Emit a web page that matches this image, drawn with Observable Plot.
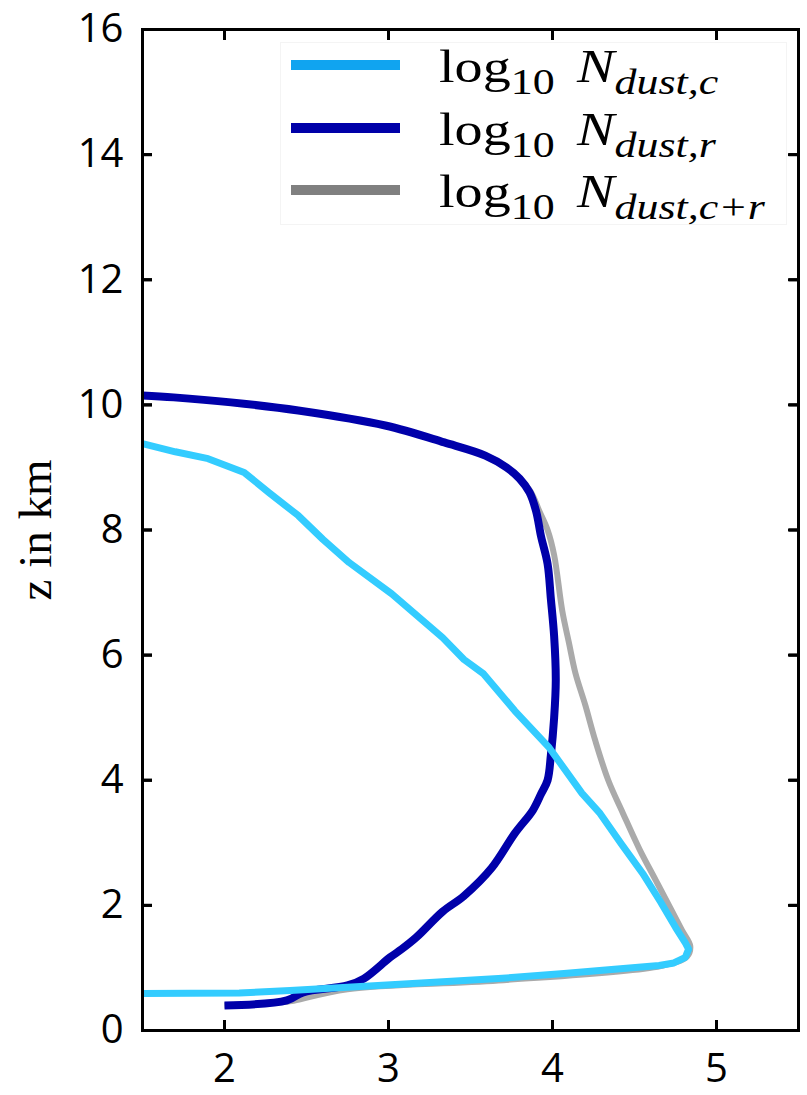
<!DOCTYPE html>
<html><head><meta charset="utf-8">
<script src="https://cdn.jsdelivr.net/npm/d3@7"></script>
<script src="https://cdn.jsdelivr.net/npm/@observablehq/plot@0.6"></script>
<style>
html,body{margin:0;padding:0;background:#fff;}
#wrap{position:relative;width:807px;height:1095px;overflow:hidden;}
#legendBox{position:absolute;left:280px;top:42px;width:507px;height:183px;background:#fff;border:1px solid #f4f4f4;box-sizing:border-box;}
.sw{position:absolute;left:291px;width:109px;height:10px;}
.lt{position:absolute;left:439px;font-family:"Liberation Serif","DejaVu Serif",serif;font-size:46px;line-height:1;white-space:nowrap;transform:scaleX(1.22);transform-origin:0 0;color:#000;}
.lt .sub{position:relative;top:12px;font-size:36px;}
.lt .it{font-style:italic;}
</style></head><body><div id="wrap"></div>
<script>
// ---- data ----
const xTicks = [2, 3, 4, 5];
const yTicks = [0, 2, 4, 6, 8, 10, 12, 14, 16];
const innerYTicks = [2, 4, 6, 8, 10, 12, 14];

// log10 N_dust,c : x = log10 N, z in km
const cX = [1.50, 1.70, 1.90, 2.12, 2.27, 2.45, 2.60, 2.76, 3.02, 3.33, 3.46, 3.58, 3.77, 3.98, 4.18, 4.29, 4.42, 4.55, 4.66, 4.75, 4.81, 4.83, 4.81, 4.74, 4.65, 4.07, 3.67, 3.20, 2.75, 2.40, 2.09, 1.50];
const cZ = [9.38, 9.25, 9.14, 8.92, 8.60, 8.23, 7.85, 7.48, 6.98, 6.28, 5.93, 5.70, 5.11, 4.52, 3.79, 3.47, 2.98, 2.51, 2.05, 1.65, 1.40, 1.30, 1.17, 1.08, 1.04, 0.91, 0.83, 0.76, 0.69, 0.64, 0.60, 0.59];

// log10 N_dust,r
const rX = [1.50, 1.69, 2.04, 2.45, 2.98, 3.34, 3.59, 3.72, 3.80, 3.86, 3.90, 3.93, 3.97, 3.99, 4.01, 4.02, 4.01, 3.99, 3.97, 3.93, 3.88, 3.77, 3.63, 3.46, 3.33, 3.17, 3.08, 3.01, 2.85, 2.75, 2.48, 2.38, 2.00];
const rZ = [10.15, 10.12, 10.04, 9.91, 9.67, 9.40, 9.19, 9.00, 8.82, 8.60, 8.30, 7.90, 7.46, 6.90, 6.30, 5.60, 5.00, 4.40, 4.00, 3.78, 3.52, 3.15, 2.60, 2.15, 1.90, 1.49, 1.30, 1.17, 0.83, 0.72, 0.61, 0.48, 0.40];

// log10 N_dust,c+r
const sX = [1.50, 1.69, 2.04, 2.45, 2.98, 3.34, 3.59, 3.72, 3.80, 3.87, 3.92, 3.97, 4.01, 4.06, 4.10, 4.14, 4.20, 4.26, 4.34, 4.43, 4.53, 4.63, 4.72, 4.79, 4.84, 4.82, 4.66, 3.67, 2.75, 2.41, 2.38, 2.00];
const sZ = [10.15, 10.12, 10.04, 9.91, 9.67, 9.40, 9.19, 9.00, 8.82, 8.60, 8.30, 8.00, 7.60, 6.70, 6.20, 5.71, 5.20, 4.64, 4.00, 3.47, 2.90, 2.40, 1.95, 1.60, 1.35, 1.18, 1.03, 0.80, 0.66, 0.47, 0.46, 0.40];

const seriesColors = ["#33CCFF", "#0000AA", "#AAAAAA"];
const legendColors = ["#10A4F0", "#0000A8", "#808080"];
const legendSubs = ["dust,c", "dust,r", "dust,c+r"];
const yLabel = "z in km";

const toRows = (xs, zs) => xs.map((x, i) => ({x, z: zs[i]}));
const cRows = toRows(cX, cZ), rRows = toRows(rX, rZ), sRows = toRows(sX, sZ);

const W = 807, H = 1095, ML = 142, MR = 9, MT = 29, MB = 65;
const frameW = W - ML - MR, frameH = H - MT - MB, tickLen = 10;
const tickStyle = {stroke: "black", strokeWidth: 3};
const inTick = {tickSize: -tickLen, text: null, label: null, stroke: "black", strokeWidth: 3};

const chart = Plot.plot({
  width: W,
  height: H,
  marginLeft: ML,
  marginRight: MR,
  marginTop: MT,
  marginBottom: MB,
  style: {fontFamily: "'Open Sans', sans-serif"},
  x: {domain: [1.5, 5.5], label: null},
  y: {domain: [0, 16], label: null},
  marks: [
    Plot.line(sRows, {x: "x", y: "z", stroke: seriesColors[2], strokeWidth: 6, curve: "catmull-rom", strokeLinecap: "butt"}),
    Plot.line(rRows, {x: "x", y: "z", stroke: seriesColors[1], strokeWidth: 8, curve: "catmull-rom", strokeLinecap: "butt"}),
    Plot.line(cRows, {x: "x", y: "z", stroke: seriesColors[0], strokeWidth: 7, strokeLinecap: "butt"}),
    Plot.axisY({ticks: yTicks, tickSize: 0, tickPadding: 19, fontSize: 40, label: null, fill: "black", tickFormat: d => String(d)}),
    Plot.axisX({ticks: xTicks, tickSize: 0, tickPadding: 23, fontSize: 40, label: null, fill: "black", tickFormat: d => String(d)}),
    Plot.text([yLabel], {text: d => d, frameAnchor: "left", dx: -107, rotate: -90, textAnchor: "middle", lineAnchor: "middle", fontSize: 47, fontFamily: "Liberation Serif, serif", fill: "black"}),
    Plot.frame({stroke: "black", strokeWidth: 3}),
    // inward ticks on all four sides
    Plot.tickY(innerYTicks, {y: d => d, insetRight: frameW - tickLen, ...tickStyle}),
    Plot.tickY(innerYTicks, {y: d => d, insetLeft: frameW - tickLen, ...tickStyle}),
    Plot.tickX(xTicks, {x: d => d, insetTop: frameH - tickLen, ...tickStyle}),
    Plot.tickX(xTicks, {x: d => d, insetBottom: frameH - tickLen, ...tickStyle}),
    Plot.axisY({anchor: "left", ticks: innerYTicks, ...inTick}),
    Plot.axisY({anchor: "right", ticks: innerYTicks, ...inTick}),
    Plot.axisX({anchor: "bottom", ticks: xTicks, ...inTick}),
    Plot.axisX({anchor: "top", ticks: xTicks, ...inTick})
  ]
});

const wrap = document.getElementById("wrap");
wrap.appendChild(chart);

// legend overlay
const box = document.createElement("div");
box.id = "legendBox";
wrap.appendChild(box);
const swY = [60, 123, 185];
const baseTop = [44, 107, 169];
legendSubs.forEach((s, i) => {
  const sw = document.createElement("div");
  sw.className = "sw";
  sw.style.top = swY[i] + "px";
  sw.style.background = legendColors[i];
  wrap.appendChild(sw);
  const t = document.createElement("div");
  t.className = "lt";
  t.style.top = baseTop[i] + "px";
  t.innerHTML = 'log<span class="sub">10</span>&#8201;&#8201;<span class="it">N</span><span class="sub it">' + s + '</span>';
  wrap.appendChild(t);
});
</script></body></html>
